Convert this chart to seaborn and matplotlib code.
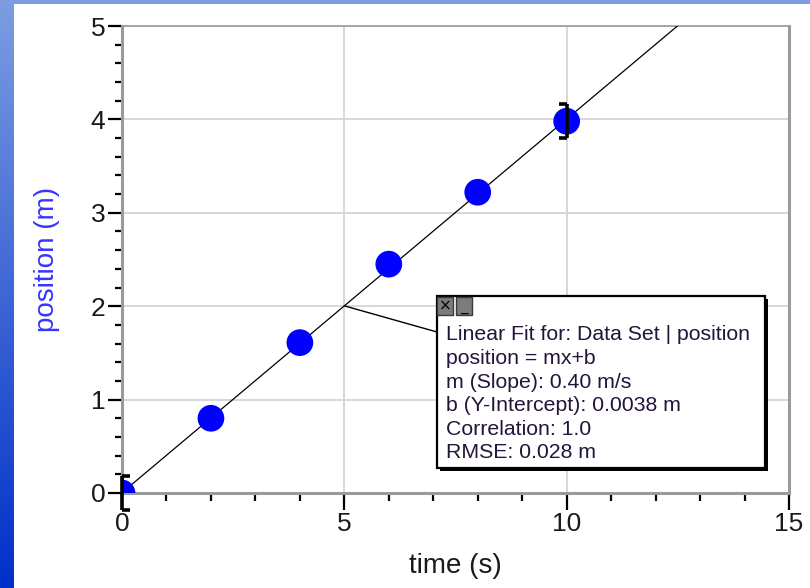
import numpy as np
import pandas as pd
import matplotlib
matplotlib.use("Agg")
import matplotlib.pyplot as plt
import seaborn as sns
from matplotlib.patches import Rectangle, ConnectionPatch
from matplotlib.path import Path
from matplotlib.markers import MarkerStyle
from matplotlib.ticker import MultipleLocator

# measured data
time_s = [0, 2, 4, 6, 8, 10]
position_m = [0.0, 0.80, 1.61, 2.45, 3.22, 3.98]

# error bars shown on the end points
err_time = [0, 10]
err_pos = [0.0, 3.98]
err_half = [0.18, 0.18]
err_cap_side = ["right", "left"]

# linear fit results
slope = 0.40
intercept = 0.0038
fit_lines = [
    "Linear Fit for: Data Set | position",
    "position = mx+b",
    "m (Slope): 0.40 m/s",
    "b (Y-Intercept): 0.0038 m",
    "Correlation: 1.0",
    "RMSE: 0.028 m",
]
leader_time = 5

x_ticks = [0, 5, 10, 15]
y_ticks = [0, 1, 2, 3, 4, 5]

sns.set_theme(style="white")
plt.rcParams["font.family"] = ["Liberation Sans", "DejaVu Sans"]

W, H = 810, 588
fig = plt.figure(figsize=(W / 100, H / 100), dpi=100)
fig.patch.set_facecolor("white")

def fx(px):
    return px / W

def fy(py):
    return 1 - py / H

# blue frame strips
bg = fig.add_axes([0, 0, 1, 1], zorder=-5)
bg.set_xlim(0, W)
bg.set_ylim(H, 0)
bg.axis("off")
top_c = np.array([125, 157, 226]) / 255
bot_c = np.array([0, 48, 200]) / 255
t = np.linspace(0, 1, 256)[:, None]
grad = (top_c[None, :] * (1 - t) + bot_c[None, :] * t)[:, None, :]
bg.imshow(grad, extent=[0, 14, H, 0], aspect="auto", interpolation="bilinear")
bg.add_patch(Rectangle((0, 0), W, 4, color=top_c, lw=0))

ax = fig.add_axes([fx(122), fy(493), fx(789) - fx(122), (493 - 26) / H])
ax.set_facecolor("white")

df = pd.DataFrame({"time": time_s, "position": position_m})

# fit line
fit_x = np.array([0, 15])
ax.plot(fit_x, slope * fit_x + intercept, color="black", lw=0.9, zorder=3)

sns.scatterplot(data=df, x="time", y="position", ax=ax, s=370,
                color="#0000ff", edgecolor="none", zorder=4, legend=False)

# bracket-style error bars
for xv, yv, e, side in zip(err_time, err_pos, err_half, err_cap_side):
    ax.plot([xv, xv], [yv - e, yv + e], color="black", lw=2.6,
            solid_capstyle="butt", clip_on=False, zorder=6)
    if side == "right":
        cap = MarkerStyle(Path([(0, 0), (1, 0)]))
    else:
        cap = MarkerStyle(Path([(-1, 0), (0, 0)]))
    ax.plot([xv, xv], [yv - e, yv + e], linestyle="none", marker=cap,
            markersize=11, markeredgewidth=2.6, color="black",
            clip_on=False, zorder=6)

ax.set_xlim(0, 15)
ax.set_ylim(0, 5)
ax.set_xticks(x_ticks)
ax.set_yticks(y_ticks)
ax.xaxis.set_minor_locator(MultipleLocator(1))
ax.yaxis.set_minor_locator(MultipleLocator(0.2))
ax.grid(True, which="major", color="#d4d4d4", lw=1.3)
ax.set_axisbelow(True)

ax.tick_params(axis="both", which="both", direction="out", color="black",
               width=1.6, labelsize=19, labelcolor="#1a1a1a")
ax.tick_params(axis="x", which="major", length=12, pad=2)
ax.tick_params(axis="x", which="minor", length=5.5)
ax.tick_params(axis="y", which="major", length=10, pad=2)
ax.tick_params(axis="y", which="minor", length=5)
ax.tick_params(bottom=True, left=True, which="both")

for name, sp in ax.spines.items():
    sp.set_visible(True)
    sp.set_color("#9a9a9a")
    sp.set_linewidth(2.2 if name in ("left", "bottom", "right") else 1.2)

ax.set_xlabel("time (s)", fontsize=20, color="#1a1a1a", labelpad=12)
ax.set_ylabel("position (m)", fontsize=20, color="#3535ff", labelpad=22)

# fit summary box
bx0, bx1, by0, by1 = 437, 765, 296, 468
fig.patches.append(Rectangle((fx(bx0 + 3), fy(by1 + 3)), fx(bx1 - bx0), (by1 - by0) / H,
                             transform=fig.transFigure, facecolor="black",
                             edgecolor="none", zorder=10))
fig.patches.append(Rectangle((fx(bx0), fy(by1)), fx(bx1 - bx0), (by1 - by0) / H,
                             transform=fig.transFigure, facecolor="white",
                             edgecolor="black", lw=1.6, zorder=11))
for ix0, glyph in [(437, "×"), (456, "_")]:
    fig.patches.append(Rectangle((fx(ix0), fy(315)), fx(16), 18 / H,
                                 transform=fig.transFigure, facecolor="#7c7c7c",
                                 edgecolor="#3a3a3a", lw=1.0, zorder=12))
    fig.text(fx(ix0 + 8), fy(306), glyph, ha="center", va="center",
             fontsize=11, color="black", zorder=13,
             family=["DejaVu Sans"])

for i, line in enumerate(fit_lines):
    fig.text(fx(446), fy(335 + i * 23.6), line, ha="left", va="center",
             fontsize=15.3, color="#24143a", zorder=13)

con = ConnectionPatch(xyA=(leader_time, slope * leader_time + intercept), coordsA=ax.transData,
                      xyB=(fx(bx0), fy(332)), coordsB=fig.transFigure,
                      color="black", lw=1.0, zorder=9)
fig.add_artist(con)

fig.savefig("out.png", dpi=100)
